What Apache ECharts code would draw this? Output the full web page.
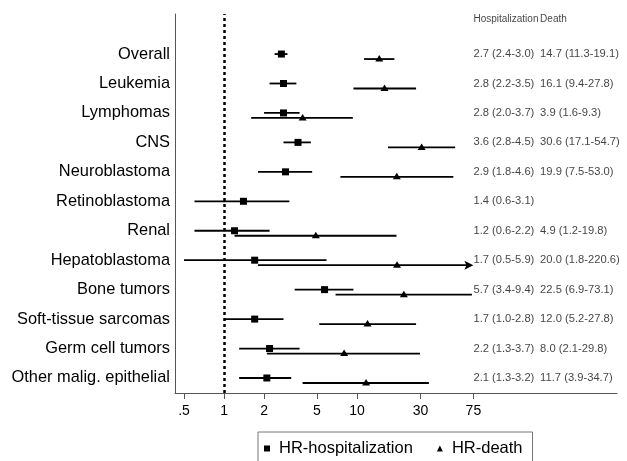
<!DOCTYPE html>
<html>
<head>
<meta charset="utf-8">
<script src="https://cdn.jsdelivr.net/npm/echarts@6/dist/echarts.min.js"></script>
<style>
  html, body { margin: 0; padding: 0; background: #fff; }
  #chart { width: 627px; height: 461px; }
</style>
</head>
<body>
<div id="chart"></div>
<script>
// data (top row first)
const categories = ['Overall', 'Leukemia', 'Lymphomas', 'CNS', 'Neuroblastoma', 'Retinoblastoma',
  'Renal', 'Hepatoblastoma', 'Bone tumors', 'Soft-tissue sarcomas', 'Germ cell tumors', 'Other malig. epithelial'];
const hospHR = [2.7, 2.8, 2.8, 3.6, 2.9, 1.4, 1.2, 1.7, 5.7, 1.7, 2.2, 2.1];
const hospLo = [2.4, 2.2, 2.0, 2.8, 1.8, 0.6, 0.6, 0.5, 3.4, 1.0, 1.3, 1.3];
const hospHi = [3.0, 3.5, 3.7, 4.5, 4.6, 3.1, 2.2, 5.9, 9.4, 2.8, 3.7, 3.2];
const deathHR = [14.7, 16.1, 3.9, 30.6, 19.9, null, 4.9, 20.0, 22.5, 12.0, 8.0, 11.7];
const deathLo = [11.3, 9.4, 1.6, 17.1, 7.5, null, 1.2, 1.8, 6.9, 5.2, 2.1, 3.9];
const deathHi = [19.1, 27.8, 9.3, 54.7, 53.0, null, 19.8, 220.6, 73.1, 27.8, 29.8, 34.7];
const tickValues = [0.5, 1, 2, 5, 10, 30, 75];
const tickLabels = ['.5', '1', '2', '5', '10', '30', '75'];
const colHeaders = ['Hospitalization', 'Death'];

// layout constants
const FONT = '"Liberation Sans", Arial, sans-serif';
const ARROW_MAX = 75;      // CI clipped here with an arrow
const DEATH_OFFSET = 0.17; // death row drawn a bit below
const COL_X = [75, 238];   // x anchors of the text columns
const HEADER_Y = 13.19;

const n = categories.length;
const rowY = (i) => n - i;
const fmt = (hr, lo, hi) => hr.toFixed(1) + ' (' + lo.toFixed(1) + '-' + hi.toFixed(1) + ')';

const hospData = categories.map((c, i) => [hospLo[i], hospHi[i], hospHR[i], rowY(i)]);
const deathData = [];
categories.forEach((c, i) => {
  if (deathHR[i] != null) deathData.push([deathLo[i], deathHi[i], deathHR[i], rowY(i) - DEATH_OFFSET]);
});

const headerData = [
  { name: colHeaders[0], value: [COL_X[0], HEADER_Y] },
  { name: colHeaders[1], value: [COL_X[1], HEADER_Y] },
];
const textData = [];
categories.forEach((c, i) => {
  textData.push({ name: fmt(hospHR[i], hospLo[i], hospHi[i]), value: [COL_X[0], rowY(i)] });
  if (deathHR[i] != null) {
    textData.push({ name: fmt(deathHR[i], deathLo[i], deathHi[i]), value: [COL_X[1], rowY(i)] });
  }
});

function ciRenderer(marker) {
  return function (params, api) {
    const y = api.value(3);
    const hi = api.value(1);
    const clipped = hi > ARROW_MAX;
    const p0 = api.coord([api.value(0), y]);
    const p1 = api.coord([Math.min(hi, ARROW_MAX), y]);
    const pm = api.coord([api.value(2), y]);
    const children = [];
    children.push({
      type: 'line',
      shape: { x1: p0[0], y1: p0[1], x2: clipped ? p1[0] - 5 : p1[0], y2: p1[1] },
      style: { stroke: '#000', lineWidth: 1.8 },
    });
    if (clipped) {
      children.push({
        type: 'polygon',
        shape: { points: [[p1[0], p1[1]], [p1[0] - 9, p1[1] - 4.5], [p1[0] - 7, p1[1]], [p1[0] - 9, p1[1] + 4.5]] },
        style: { fill: '#000' },
      });
    }
    if (marker === 'rect') {
      children.push({
        type: 'rect',
        shape: { x: pm[0] - 3.5, y: pm[1] - 3.5, width: 7, height: 7 },
        style: { fill: '#000' },
      });
    } else {
      children.push({
        type: 'polygon',
        shape: { points: [[pm[0], pm[1] - 4], [pm[0] - 4, pm[1] + 2.5], [pm[0] + 4, pm[1] + 2.5]] },
        style: { fill: '#000' },
      });
    }
    return { type: 'group', children: children };
  };
}

const chart = echarts.init(document.getElementById('chart'));
chart.setOption({
  animation: false,
  textStyle: { fontFamily: FONT },
  grid: { left: 175, right: 10, top: 14, bottom: 68 },
  xAxis: {
    type: 'log',
    min: 0.428,
    max: 901,
    splitLine: { show: false },
    axisLine: { show: true, lineStyle: { color: '#555', width: 1 } },
    axisTick: { show: true, length: 6, lineStyle: { color: '#555' }, customValues: tickValues },
    axisLabel: {
      customValues: tickValues,
      color: '#000',
      fontSize: 14,
      margin: 11,
      fontFamily: FONT,
      formatter: (v) => {
        const k = tickValues.findIndex((t) => Math.abs(t - v) < 1e-6);
        return k >= 0 ? tickLabels[k] : '';
      },
    },
  },
  yAxis: {
    type: 'value',
    min: 0.49,
    max: 13.36,
    splitLine: { show: false },
    axisLine: { show: true, lineStyle: { color: '#555', width: 1 } },
    axisTick: { show: false },
    axisLabel: {
      customValues: categories.map((c, i) => rowY(i)),
      color: '#000',
      fontSize: 16.4,
      margin: 5,
      fontFamily: FONT,
      formatter: (v) => categories[n - Math.round(v)] || '',
    },
  },
  legend: {
    data: [
      { name: 'HR-hospitalization', icon: 'rect' },
      { name: 'HR-death', icon: 'triangle' },
    ],
    left: 258,
    top: 432,
    orient: 'horizontal',
    itemWidth: 6,
    itemHeight: 6,
    itemGap: 24,
    padding: [8, 10, 12, 6],
    borderColor: '#777',
    borderWidth: 1,
    textStyle: { fontSize: 16.5, color: '#000', fontFamily: FONT, padding: [0, 0, 0, 4] },
    itemStyle: { color: '#000' },
  },
  series: [
    {
      name: 'HR-hospitalization',
      type: 'custom',
      renderItem: ciRenderer('rect'),
      encode: { x: [0, 1, 2], y: 3 },
      itemStyle: { color: '#000' },
      data: hospData,
      z: 3,
      markLine: {
        silent: true,
        symbol: 'none',
        label: { show: false },
        lineStyle: { color: '#000', width: 2.5, type: [3, 3] },
        data: [{ xAxis: 1 }],
      },
    },
    {
      name: 'HR-death',
      type: 'custom',
      renderItem: ciRenderer('triangle'),
      encode: { x: [0, 1, 2], y: 3 },
      itemStyle: { color: '#000' },
      data: deathData,
      z: 3,
    },
    {
      name: 'headers',
      type: 'scatter',
      symbolSize: 0,
      silent: true,
      data: headerData,
      label: {
        show: true,
        position: 'right',
        distance: 0,
        formatter: '{b}',
        fontSize: 10,
        color: '#111',
        fontFamily: FONT,
      },
    },
    {
      name: 'values',
      type: 'scatter',
      symbolSize: 0,
      silent: true,
      data: textData,
      label: {
        show: true,
        position: 'right',
        distance: 0,
        formatter: '{b}',
        fontSize: 11.2,
        color: '#111',
        fontFamily: FONT,
      },
    },
  ],
});
</script>
</body>
</html>
